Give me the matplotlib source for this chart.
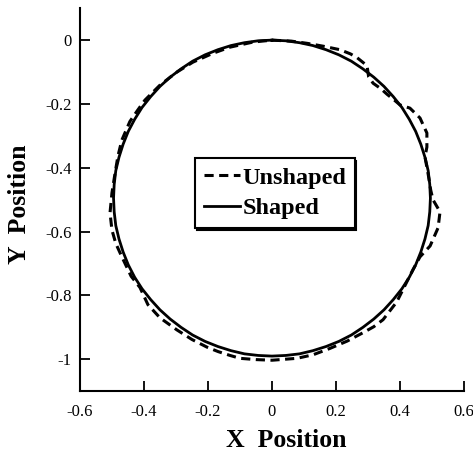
import matplotlib
matplotlib.use('Agg')
import matplotlib.pyplot as plt

plt.rcParams['font.family'] = ['Liberation Serif', 'DejaVu Serif']
plt.rcParams['axes.unicode_minus'] = False

# Shaped trajectory (solid), read clockwise from the top
shaped_x = [0.0, 0.043, 0.086, 0.128, 0.169, 0.209, 0.248, 0.284, 0.318, 0.350,
            0.379, 0.406, 0.429, 0.449, 0.465, 0.478, 0.488, 0.493, 0.495,
            0.493, 0.488, 0.478, 0.465, 0.449, 0.429, 0.406, 0.379, 0.350,
            0.318, 0.284, 0.248, 0.209, 0.169, 0.128, 0.086, 0.043, 0.0,
            -0.043, -0.086, -0.128, -0.169, -0.209, -0.248, -0.284, -0.318, -0.350,
            -0.379, -0.406, -0.429, -0.449, -0.465, -0.478, -0.488, -0.493, -0.495,
            -0.493, -0.488, -0.478, -0.465, -0.449, -0.429, -0.406, -0.379, -0.350,
            -0.318, -0.284, -0.248, -0.209, -0.169, -0.128, -0.086, -0.043, 0.0]
shaped_y = [0.0, -0.002, -0.008, -0.017, -0.030, -0.046, -0.066, -0.090, -0.116, -0.145,
            -0.177, -0.211, -0.248, -0.286, -0.326, -0.367, -0.409, -0.452, -0.495,
            -0.538, -0.581, -0.623, -0.664, -0.704, -0.743, -0.779, -0.813, -0.845,
            -0.874, -0.900, -0.924, -0.944, -0.960, -0.973, -0.983, -0.988, -0.990,
            -0.988, -0.983, -0.973, -0.960, -0.944, -0.924, -0.900, -0.874, -0.845,
            -0.813, -0.779, -0.743, -0.704, -0.664, -0.623, -0.581, -0.538, -0.495,
            -0.452, -0.409, -0.367, -0.326, -0.286, -0.248, -0.211, -0.177, -0.145,
            -0.116, -0.090, -0.066, -0.046, -0.030, -0.017, -0.008, -0.002, 0.0]

# Unshaped trajectory (dashed)
unshaped_x = [0.0, 0.06, 0.11, 0.16, 0.2125, 0.245, 0.266, 0.297, 0.302, 0.316,
              0.34, 0.36, 0.38, 0.40, 0.431, 0.4625, 0.484, 0.484, 0.478, 0.488,
              0.496, 0.503, 0.525, 0.519, 0.494, 0.4625, 0.44, 0.41, 0.39, 0.347,
              0.318, 0.284, 0.235, 0.181, 0.128, 0.078, 0.0, -0.05, -0.1, -0.131,
              -0.168, -0.203, -0.25, -0.297, -0.35, -0.3875, -0.4125, -0.44, -0.469, -0.488,
              -0.5, -0.506, -0.5, -0.49, -0.481, -0.469, -0.444, -0.42, -0.397, -0.35,
              -0.297, -0.247, -0.184, -0.131, -0.059, 0.0]
unshaped_y = [0.0, -0.003, -0.010, -0.019, -0.030, -0.043, -0.055, -0.080, -0.115, -0.135,
              -0.152, -0.170, -0.186, -0.203, -0.213, -0.244, -0.291, -0.335, -0.366, -0.420,
              -0.470, -0.500, -0.538, -0.588, -0.645, -0.679, -0.720, -0.780, -0.820, -0.876,
              -0.898, -0.917, -0.943, -0.966, -0.986, -0.997, -1.003, -1.001, -0.997, -0.988,
              -0.976, -0.962, -0.938, -0.908, -0.870, -0.829, -0.775, -0.740, -0.679, -0.637,
              -0.595, -0.541, -0.479, -0.415, -0.362, -0.313, -0.255, -0.220, -0.188, -0.141,
              -0.100, -0.069, -0.041, -0.022, -0.006, 0.0]

x_ticks = [-0.6, -0.4, -0.2, 0, 0.2, 0.4, 0.6]
x_labels = ['-0.6', '-0.4', '-0.2', '0', '0.2', '0.4', '0.6']
y_ticks = [0, -0.2, -0.4, -0.6, -0.8, -1]
y_labels = ['0', '-0.2', '-0.4', '-0.6', '-0.8', '-1']

fig = plt.figure(figsize=(4.73, 4.57), dpi=100)
ax = fig.add_axes([0.169, 0.144, 0.812, 0.838])

ax.plot(unshaped_x, unshaped_y, color='black', linewidth=2.2,
        dashes=(3, 1.8), label='Unshaped')
ax.plot(shaped_x, shaped_y, color='black', linewidth=2.0, label='Shaped')

ax.set_xlim(-0.6, 0.6)
ax.set_ylim(-1.1, 0.1)
ax.set_xticks(x_ticks)
ax.set_xticklabels(x_labels)
ax.set_yticks(y_ticks)
ax.set_yticklabels(y_labels)
ax.tick_params(direction='in', length=7, width=1.3, labelsize=12)
ax.tick_params(axis='x', pad=9)
ax.tick_params(axis='y', pad=6)

for side in ['top', 'right']:
    ax.spines[side].set_visible(False)
for side in ['left', 'bottom']:
    ax.spines[side].set_linewidth(1.5)

ax.set_xlabel('X  Position', fontsize=18.5, fontweight='bold')
ax.set_ylabel('Y  Position', fontsize=18.5, fontweight='bold')
ax.xaxis.set_label_coords(0.536, -0.100)
ax.yaxis.set_label_coords(-0.128, 0.488)

leg = ax.legend(loc='center', bbox_to_anchor=(0.508, 0.517),
                prop={'weight': 'bold', 'size': 17.5}, handlelength=1.5,
                handletextpad=0.1, borderpad=0.35, labelspacing=0.35,
                fancybox=False, edgecolor='black', framealpha=1,
                shadow={'color': 'black', 'alpha': 1, 'ox': 1, 'oy': -1.5})
leg.get_frame().set_linewidth(1.5)

fig.savefig('out.png', dpi=100)
